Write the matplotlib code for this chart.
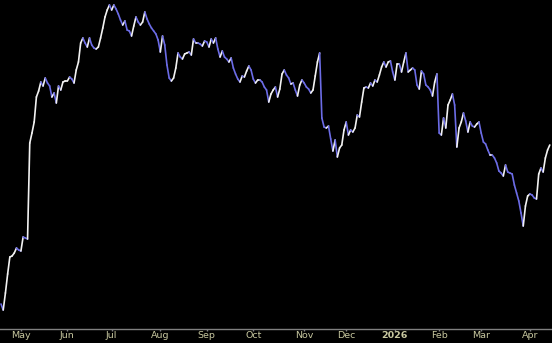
import matplotlib
matplotlib.use('Agg')
import matplotlib.pyplot as plt
from matplotlib.collections import LineCollection
import numpy as np
import pandas as pd

# Exchange holidays inside the plotted window (trading-day x axis)
holidays = ['2025-04-18', '2025-05-26', '2025-06-19', '2025-07-04', '2025-09-01',
            '2025-11-27', '2025-12-25', '2026-01-01', '2026-01-19', '2026-02-16',
            '2026-04-03']

# Daily closing levels (arbitrary units, no y scale shown)
closes = [
    25, 19, 36, 55, 72, 73, 76, 81, 79, 78, 92, 91, 90, 186, 196, 207, 232, 238, 247, 243,
    251, 246, 243, 232, 236, 226, 243, 239, 247, 248, 248, 252, 250, 246, 259, 267, 286, 291, 286, 282,
    291, 284, 281, 280, 282, 291, 301, 312, 319, 324, 319, 324, 320, 315, 309, 304, 308, 299, 298, 293,
    303, 312, 307, 304, 307, 317, 310, 305, 301, 298, 295, 289, 277, 293, 284, 264, 251, 248, 251, 261,
    276, 272, 270, 275, 276, 277, 274, 290, 286, 286, 285, 283, 288, 287, 282, 290, 286, 291, 280, 272,
    278, 272, 270, 267, 271, 261, 255, 250, 247, 253, 252, 258, 263, 259, 250, 246, 249, 249, 247, 242,
    239, 227, 235, 239, 242, 232, 240, 255, 259, 254, 251, 245, 246, 239, 233, 244, 249, 246, 242, 240,
    236, 239, 253, 267, 276, 211, 202, 201, 203, 190, 178, 189, 172, 181, 184, 199, 207, 194, 199, 197,
    201, 214, 212, 227, 241, 242, 241, 246, 243, 249, 247, 254, 262, 267, 262, 267, 268, 257, 249, 265,
    265, 257, 267, 276, 257, 259, 261, 259, 244, 240, 258, 255, 244, 242, 239, 233, 247, 255, 196, 194,
    211, 201, 224, 229, 235, 224, 182, 201, 207, 216, 208, 197, 207, 203, 202, 205, 207, 196, 187, 185,
    179, 174, 174, 171, 166, 158, 156, 153, 164, 157, 156, 155, 144, 136, 128, 116, 103, 123, 133, 135,
    134, 131, 130, 155, 161, 157, 171, 179, 184,
]

UP_COLOR = '#f2f2f2'
DOWN_COLOR = '#6c6ce6'
AXIS_COLOR = '#808080'
LABEL_COLOR = '#c8c8a0'

dates = pd.bdate_range('2025-04-17', '2026-04-15', freq='C', holidays=holidays)[:len(closes)]

x = np.arange(len(closes))
y = np.array(closes, dtype=float)
pts = np.column_stack([x, y])
segs = np.stack([pts[:-1], pts[1:]], axis=1)
seg_colors = [UP_COLOR if d >= 0 else DOWN_COLOR for d in np.diff(y)]

fig = plt.figure(figsize=(5.52, 3.43), dpi=100, facecolor='black')
ax = fig.add_axes([0, 14 / 343, 1, 329 / 343])
ax.set_facecolor('black')

lc = LineCollection(segs, colors=seg_colors, linewidths=1.2,
                    capstyle='round', joinstyle='round')
ax.add_collection(lc)
ax.set_xlim(-0.45, 249.0)
ax.set_ylim(0, 329)

# Month ticks at the first trading day of each month
month_start = [i for i in range(1, len(dates)) if dates[i].month != dates[i - 1].month]
labels = [str(dates[i].year) if dates[i].month == 1 else dates[i].strftime('%b')
          for i in month_start]
ax.set_xticks(month_start, labels)
for lbl, i in zip(ax.get_xticklabels(), month_start):
    if dates[i].month == 1:
        lbl.set_fontweight('bold')

ax.tick_params(axis='x', color=AXIS_COLOR, labelcolor=LABEL_COLOR, length=1.5,
               width=1, direction='out', pad=0.3, labelsize=6.8)
ax.set_yticks([])

for side in ['top', 'left', 'right']:
    ax.spines[side].set_visible(False)
ax.spines['bottom'].set_color(AXIS_COLOR)
ax.spines['bottom'].set_linewidth(1)

fig.savefig('out.png', dpi=100, facecolor='black')
